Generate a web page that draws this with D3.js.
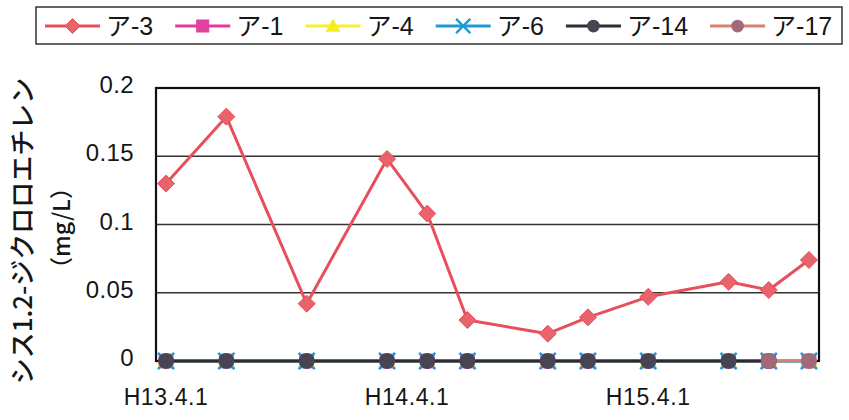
<!DOCTYPE html>
<html><head><meta charset="utf-8">
<script src="https://cdn.jsdelivr.net/npm/d3@7"></script>
<style>
html,body{margin:0;padding:0;background:#fff;}
svg{display:block;}
</style></head>
<body>
<svg id="chart" width="849" height="420"></svg>
<script>
// ---- data ----
const dates = ["2001-04-01","2001-07-01","2001-11-01","2002-03-01","2002-05-01","2002-07-01",
               "2002-11-01","2003-01-01","2003-04-01","2003-08-01","2003-10-01","2003-12-01"];
const seriesNames = ["ア-3","ア-1","ア-4","ア-6","ア-14","ア-17"];
const valuesA3  = [0.130,0.179,0.042,0.148,0.108,0.030,0.020,0.032,0.047,0.058,0.052,0.074];
const valuesA1  = [0,0,0,0,0,0,0,0,0,0,0,0];
const valuesA4  = [0,0,0,0,0,0,0,0,0,0,0,0];
const valuesA6  = [0,0,0,0,0,0,0,0,0,0,0,0];
const valuesA14 = [0,0,0,0,0,0,0,0,0,0,0,null];
const valuesA17 = [null,null,null,null,null,null,null,null,null,null,0,0];
const yTicks = [0,0.05,0.1,0.15,0.2];
const yTickLabels = ["0","0.05","0.1","0.15","0.2"];
const xTickDates = ["2001-04-01","2002-04-01","2003-04-01"];
const xTickLabels = ["H13.4.1","H14.4.1","H15.4.1"];
const axisStart = "2001-04-01", axisEnd = "2004-01-01";
const yTitle1 = "シス1.2-ジクロロエチレン";
const yTitle2 = "（mg/L）";

const styles = [
  {line:"#e84f5c", fill:"#e8636a", shape:"diamond"},
  {line:"#e23a9c", fill:"#e0449f", shape:"square"},
  {line:"#f4f030", fill:"#f4ee20", shape:"triangle"},
  {line:"#1f9ad8", fill:"#1f9ad8", shape:"cross"},
  {line:"#2e2b33", fill:"#484452", shape:"circle"},
  {line:"#d9806e", fill:"#a3687a", shape:"circle"}
];
const allValues = [valuesA3,valuesA1,valuesA4,valuesA6,valuesA14,valuesA17];

// ---- layout ----
const svg = d3.select("#chart");
const L = 156, R = 819, T = 88, B = 361;
const parse = d3.timeParse("%Y-%m-%d");
const monthKey = d3.timeFormat("%Y-%m");
const months = d3.timeMonth.range(parse(axisStart), parse(axisEnd)).map(monthKey);
const x = d3.scaleBand().domain(months).range([L, R]).paddingInner(0).paddingOuter(0);
const xc = s => x(monthKey(parse(s))) + x.bandwidth()/2;
const y = d3.scaleLinear().domain([0,0.2]).range([B, T]);

const numFont = "'Liberation Sans', Arial, sans-serif";
const jpFont = "'Liberation Sans', 'Noto Sans CJK JP', sans-serif";

// gridlines
svg.append("g").selectAll("line").data(yTicks.filter(v=>v>0 && v<0.2)).join("line")
  .attr("x1", L).attr("x2", R).attr("y1", d=>y(d)).attr("y2", d=>y(d))
  .attr("stroke", "#333").attr("stroke-width", 1.5);

// plot frame
svg.append("rect").attr("x", L).attr("y", T).attr("width", R-L).attr("height", B-T)
  .attr("fill","none").attr("stroke","#111").attr("stroke-width",2.2);

// y axis labels
const yAxis = d3.axisLeft(y).tickValues(yTicks).tickSize(0).tickPadding(0)
  .tickFormat((d,i)=>yTickLabels[i]);
const gy = svg.append("g").attr("transform", `translate(134,0)`).call(yAxis);
gy.select(".domain").remove();
gy.selectAll("text").attr("font-family", numFont).attr("font-size", 24)
  .attr("fill","#161616").attr("dy","0.32em").attr("text-anchor","end")
  .attr("letter-spacing","0.4px")
  .attr("transform","translate(0,-3)");

// x axis labels
const gx = svg.append("g").attr("transform", `translate(0,${B})`);
gx.selectAll("text").data(xTickDates).join("text")
  .attr("x", d=>xc(d)).attr("y", 44)
  .attr("text-anchor","middle").attr("font-family", numFont).attr("font-size", 23)
  .attr("letter-spacing", "0.6px")
  .attr("fill","#161616").text((d,i)=>xTickLabels[i]);

// y title
svg.append("text").attr("transform","translate(32,231) rotate(-90)")
  .attr("text-anchor","middle").attr("font-family","'Noto Sans CJK JP', sans-serif")
  .attr("font-size",26).attr("font-weight",500).attr("fill","#161616").text(yTitle1);
svg.append("text").attr("transform","translate(70,228) rotate(-90)")
  .attr("text-anchor","middle").attr("font-family","'Noto Sans CJK JP', sans-serif")
  .attr("font-size",23).attr("font-weight",500).attr("fill","#161616").text(yTitle2);

// marker drawing
function marker(g, shape, cx, cy, st, size, r) {
  const s = size;
  if (shape === "diamond") {
    g.append("path").attr("d", `M${cx},${cy-s}L${cx+s},${cy}L${cx},${cy+s}L${cx-s},${cy}Z`)
      .attr("fill", st.fill).attr("stroke", st.line).attr("stroke-width",1);
  } else if (shape === "square") {
    const h = s*0.8;
    g.append("rect").attr("x",cx-h).attr("y",cy-h).attr("width",2*h).attr("height",2*h)
      .attr("fill", st.fill).attr("stroke", st.line).attr("stroke-width",1);
  } else if (shape === "triangle") {
    g.append("path").attr("d", `M${cx},${cy-s}L${cx+s},${cy+s*0.75}L${cx-s},${cy+s*0.75}Z`)
      .attr("fill", st.fill);
  } else if (shape === "cross") {
    const h = s*0.95;
    g.append("path").attr("d", `M${cx-h},${cy-h}L${cx+h},${cy+h}M${cx-h},${cy+h}L${cx+h},${cy-h}`)
      .attr("stroke", st.fill).attr("stroke-width",2.5).attr("fill","none");
  } else {
    g.append("circle").attr("cx",cx).attr("cy",cy).attr("r", r || s*0.85)
      .attr("fill", st.fill);
  }
}

// series: lines first, then markers
const line = d3.line().defined(d=>d.v!==null).x(d=>xc(d.date)).y(d=>y(d.v));
const seriesPts = allValues.map(vals => dates.map((d,i)=>({date:d, v:vals[i]})));
const gLines = svg.append("g");
const gMarks = svg.append("g");
seriesPts.forEach((pts, si) => {
  const st = styles[si];
  gLines.append("path").datum(pts).attr("d", line).attr("fill","none")
    .attr("stroke", st.line).attr("stroke-width", si===5 ? 2 : 3).attr("stroke-linejoin","round");
});
seriesPts.forEach((pts, si) => {
  const st = styles[si];
  pts.filter(p=>p.v!==null).forEach(p => marker(gMarks, st.shape, xc(p.date), y(p.v), st, 8.5, 8));
});

// legend
const lg = svg.append("g");
lg.append("rect").attr("x",36).attr("y",7).attr("width",806).attr("height",37)
  .attr("fill","#fff").attr("stroke","#333").attr("stroke-width",1.5);
let lx = 45; const ly = 26;
seriesNames.forEach((name, i) => {
  const st = styles[i];
  lg.append("line").attr("x1",lx).attr("x2",lx+55).attr("y1",ly).attr("y2",ly)
    .attr("stroke", st.line).attr("stroke-width",3);
  marker(lg, st.shape, lx+27.5, ly, st, 7.5);
  const t = lg.append("text").attr("x", lx+61).attr("y", ly).attr("dy","0.36em")
    .attr("font-family", jpFont).attr("font-size", 25).attr("fill","#161616").text(name);
  lx += 61 + t.node().getComputedTextLength() + 22;
});
</script>
</body></html>
